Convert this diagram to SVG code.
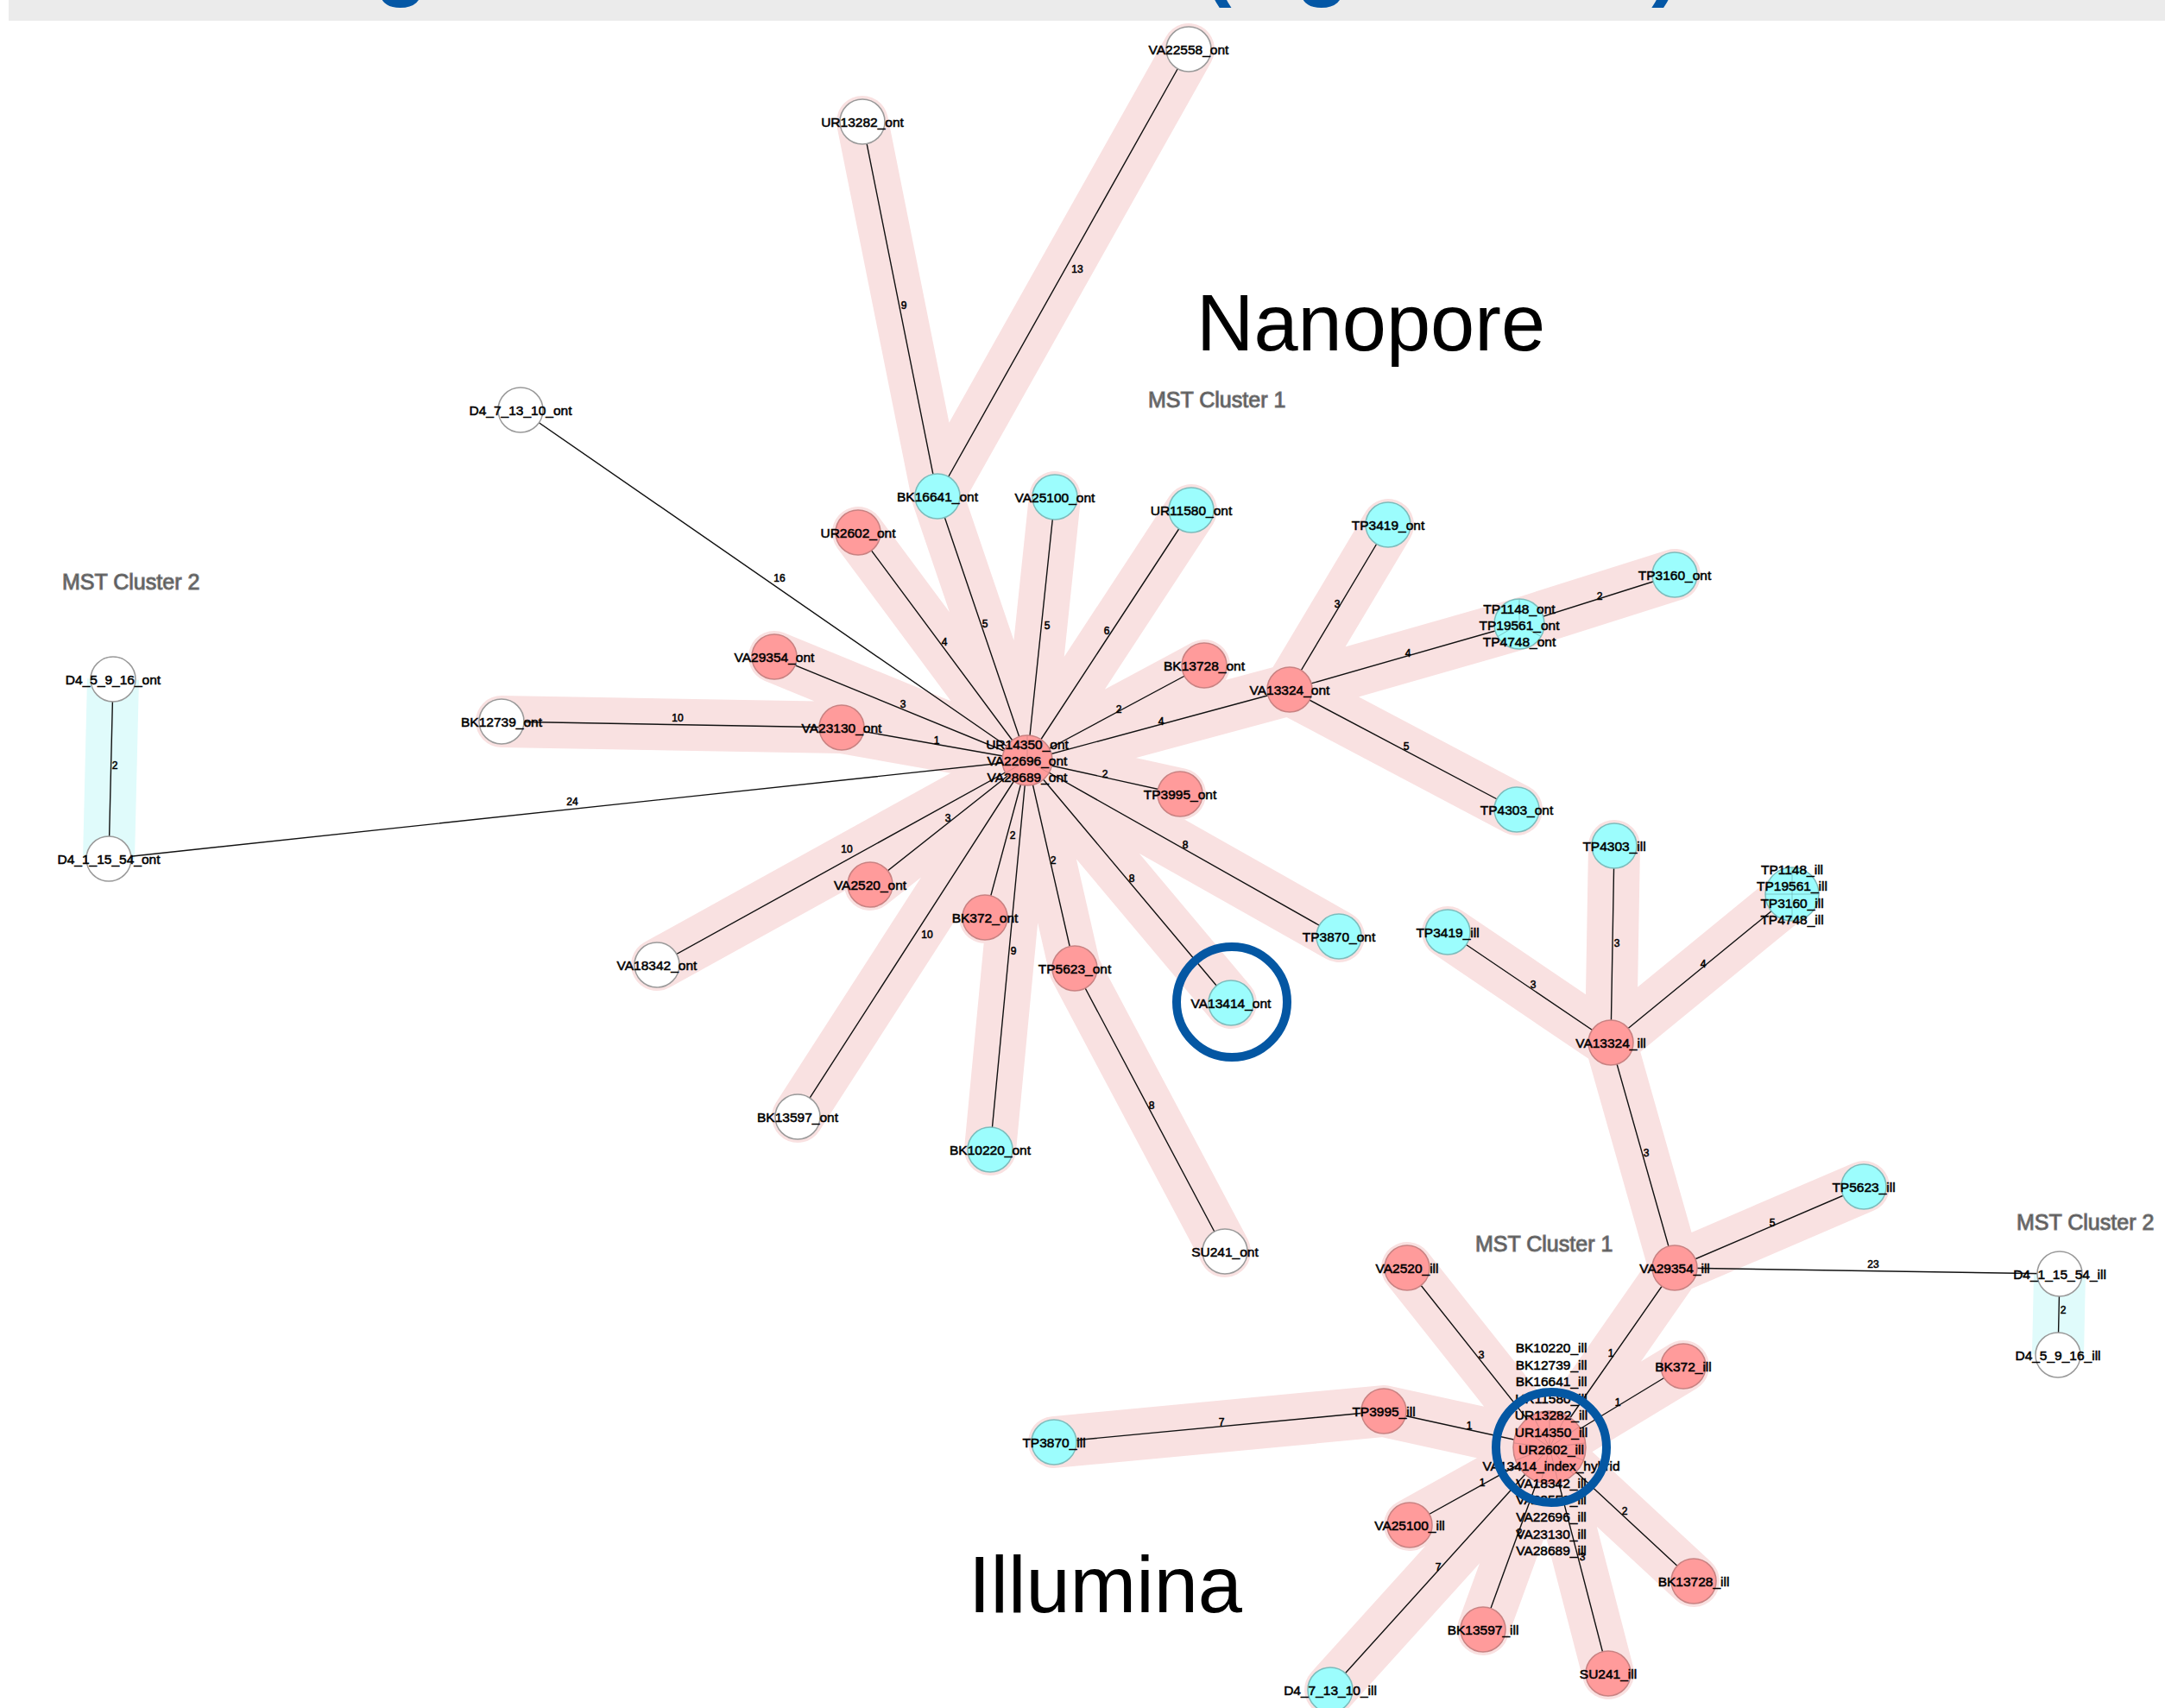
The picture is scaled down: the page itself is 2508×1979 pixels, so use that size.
<svg xmlns="http://www.w3.org/2000/svg" width="2508" height="1979" viewBox="0 0 2508 1979">
<style>
.band{fill:none;stroke:#f9e1e1;stroke-width:60;stroke-linecap:round;stroke-linejoin:round}
.bandc{fill:none;stroke:#e0fbfb;stroke-width:60;stroke-linecap:butt}
.edge{stroke:#111;stroke-width:1.4;fill:none}
.r{fill:#ff9b9b;stroke:#c98282;stroke-width:1.5}
.c{fill:#9cfdfd;stroke:#7cbcbc;stroke-width:1.5}
.w{fill:#fff;stroke:#9a9a9a;stroke-width:1.5}
.div{stroke:#c98282;stroke-width:1;fill:none;opacity:0.7}
.divc{stroke:#6fb0b0;stroke-width:1;fill:none;opacity:0.7}
text{font-family:"Liberation Sans",Arial,Helvetica,sans-serif}
.lbl{font-size:15.5px;text-anchor:middle;dominant-baseline:central;fill:#000;stroke:#000;stroke-width:0.55}
.el{font-size:12px;text-anchor:middle;dominant-baseline:central;fill:#000;stroke:#000;stroke-width:0.55}
.mst{font-size:25px;fill:#505050;stroke:#7a7a7a;stroke-width:1.1}
.big{font-size:92px;fill:#000}
.ring{fill:none;stroke:#0457a3;stroke-width:10}
.title{font-size:100px;font-weight:bold;fill:#0457a5;text-anchor:middle}
</style>
<rect x="10" y="0" width="2498" height="24" fill="#ebebeb"/>
<text class="title" x="465" y="-12">g</text>
<text class="title" x="1410" y="-12">(</text>
<text class="title" x="1532" y="-12">g</text>
<text class="title" x="1930" y="-12">)</text>

<g id="bands">
<path class="band" d="M1377,57 L1086,575 L1190,881 M999,141 L1086,575 M994,617 L1190,881 M1222,576 L1190,881 M1380,591 L1190,881 M1395,771 L1190,881 M1494,799 L1190,881 M1494,799 L1608,608 M1494,799 L1760,723 L1940,666 M1494,799 L1757,938 M897,761 L1190,881 M581,836 L975,843 L1190,881 M1190,881 L1367,920 M1190,881 L1551,1085 M1190,881 L1426,1162 M1190,881 L1245,1122 L1419,1450 M1190,881 L1141,1063 M1190,881 L1008,1025 M1190,881 L761,1118 M1190,881 L924,1294 M1190,881 L1147,1332"/>
<path class="band" d="M1870,980 L1866,1208 M2076,1036 L1866,1208 M1677,1080 L1866,1208 L1940,1469 L2159,1375 M1940,1469 L1795,1677 M1630,1469 L1795,1677 M1950,1583 L1795,1677 M1221,1671 L1603,1635 L1795,1677 M1633,1767 L1795,1677 M1541,1958 L1795,1677 M1718,1888 L1795,1677 M1962,1832 L1795,1677 M1863,1939 L1795,1677"/>
<path class="bandc" d="M131,787 L126,995 M2386,1476 L2384,1570"/>
</g>

<g id="connectors">
<path class="edge" d="M1377,57 L1086,575 M999,141 L1086,575 M1086,575 L1190,881 M603,475 L1190,881 M994,617 L1190,881 M1222,576 L1190,881 M1380,591 L1190,881 M1395,771 L1190,881 M1494,799 L1190,881 M1494,799 L1608,608 M1494,799 L1760,723 M1760,723 L1940,666 M1494,799 L1757,938 M897,761 L1190,881 M581,836 L975,843 M975,843 L1190,881 M1190,881 L126,995 M1190,881 L1367,920 M1190,881 L1551,1085 M1190,881 L1426,1162 M1190,881 L1245,1122 M1245,1122 L1419,1450 M1190,881 L1141,1063 M1190,881 L1008,1025 M1190,881 L761,1118 M1190,881 L924,1294 M1190,881 L1147,1332 M131,787 L126,995"/>
<path class="edge" d="M1870,980 L1866,1208 M2076,1036 L1866,1208 M1677,1080 L1866,1208 M1866,1208 L1940,1469 M1940,1469 L2159,1375 M1940,1469 L2386,1476 M2386,1476 L2384,1570 M1940,1469 L1795,1677 M1630,1469 L1795,1677 M1950,1583 L1795,1677 M1221,1671 L1603,1635 M1603,1635 L1795,1677 M1633,1767 L1795,1677 M1541,1958 L1795,1677 M1718,1888 L1795,1677 M1962,1832 L1795,1677 M1863,1939 L1795,1677"/>
<g id="edge-labels">
<text class="el" x="1248" y="312">13</text>
<text class="el" x="1047" y="354">9</text>
<text class="el" x="903" y="670">16</text>
<text class="el" x="1141" y="723">5</text>
<text class="el" x="1094" y="744">4</text>
<text class="el" x="1213" y="725">5</text>
<text class="el" x="1282" y="731">6</text>
<text class="el" x="1296" y="822">2</text>
<text class="el" x="1345" y="836">4</text>
<text class="el" x="1549" y="700">3</text>
<text class="el" x="1631" y="757">4</text>
<text class="el" x="1853" y="691">2</text>
<text class="el" x="1629" y="865">5</text>
<text class="el" x="1046" y="816">3</text>
<text class="el" x="785" y="832">10</text>
<text class="el" x="1085" y="858">1</text>
<text class="el" x="663" y="929">24</text>
<text class="el" x="1280" y="897">2</text>
<text class="el" x="1373" y="979">8</text>
<text class="el" x="1311" y="1018">8</text>
<text class="el" x="1220" y="997">2</text>
<text class="el" x="1173" y="968">2</text>
<text class="el" x="1098" y="948">3</text>
<text class="el" x="981" y="984">10</text>
<text class="el" x="1074" y="1083">10</text>
<text class="el" x="1174" y="1102">9</text>
<text class="el" x="1334" y="1281">8</text>
<text class="el" x="133" y="887">2</text>
<text class="el" x="1873" y="1093">3</text>
<text class="el" x="1973" y="1117">4</text>
<text class="el" x="1776" y="1141">3</text>
<text class="el" x="1907" y="1336">3</text>
<text class="el" x="2053" y="1417">5</text>
<text class="el" x="2170" y="1465">23</text>
<text class="el" x="2390" y="1518">2</text>
<text class="el" x="1866" y="1568">1</text>
<text class="el" x="1716" y="1570">3</text>
<text class="el" x="1874" y="1625">1</text>
<text class="el" x="1702" y="1652">1</text>
<text class="el" x="1415" y="1648">7</text>
<text class="el" x="1717" y="1718">1</text>
<text class="el" x="1666" y="1816">7</text>
<text class="el" x="1760" y="1776">2</text>
<text class="el" x="1882" y="1751">2</text>
<text class="el" x="1833" y="1804">3</text>
</g>
</g>

<g id="titles">
<text class="big" x="1386" y="406">Nanopore</text>
<text class="big" x="1122" y="1868">Illumina</text>
<text class="mst" x="1330" y="472">MST Cluster 1</text>
<text class="mst" x="72" y="683">MST Cluster 2</text>
<text class="mst" x="1709" y="1450">MST Cluster 1</text>
<text class="mst" x="2336" y="1425">MST Cluster 2</text>
</g>

<g id="nodes">
<g id="n-VA22558_ont"><circle class="w" cx="1377" cy="57" r="26"/><text class="lbl" x="1377" y="57">VA22558_ont</text></g>
<g id="n-UR13282_ont"><circle class="w" cx="999" cy="141" r="26"/><text class="lbl" x="999" y="141">UR13282_ont</text></g>
<g id="n-D4_7_13_10_ont"><circle class="w" cx="603" cy="475" r="26"/><text class="lbl" x="603" y="475">D4_7_13_10_ont</text></g>
<g id="n-BK16641_ont"><circle class="c" cx="1086" cy="575" r="26"/><text class="lbl" x="1086" y="575">BK16641_ont</text></g>
<g id="n-VA25100_ont"><circle class="c" cx="1222" cy="576" r="26"/><text class="lbl" x="1222" y="576">VA25100_ont</text></g>
<g id="n-UR11580_ont"><circle class="c" cx="1380" cy="591" r="26"/><text class="lbl" x="1380" y="591">UR11580_ont</text></g>
<g id="n-UR2602_ont"><circle class="r" cx="994" cy="617" r="26"/><text class="lbl" x="994" y="617">UR2602_ont</text></g>
<g id="n-TP3419_ont"><circle class="c" cx="1608" cy="608" r="26"/><text class="lbl" x="1608" y="608">TP3419_ont</text></g>
<g id="n-TP3160_ont"><circle class="c" cx="1940" cy="666" r="26"/><text class="lbl" x="1940" y="666">TP3160_ont</text></g>
<g id="n-TPgroup_ont"><circle class="c" cx="1760" cy="723" r="29"/><path class="divc" d="M1760,723 L1760,694 M1760,723 L1785,737.5 M1760,723 L1735,737.5"/><text class="lbl" x="1760" y="705">TP1148_ont</text><text class="lbl" x="1760" y="724">TP19561_ont</text><text class="lbl" x="1760" y="743">TP4748_ont</text></g>
<g id="n-BK13728_ont"><circle class="r" cx="1395" cy="771" r="26"/><text class="lbl" x="1395" y="771">BK13728_ont</text></g>
<g id="n-VA13324_ont"><circle class="r" cx="1494" cy="799" r="26"/><text class="lbl" x="1494" y="799">VA13324_ont</text></g>
<g id="n-VA29354_ont"><circle class="r" cx="897" cy="761" r="26"/><text class="lbl" x="897" y="761">VA29354_ont</text></g>
<g id="n-BK12739_ont"><circle class="w" cx="581" cy="836" r="26"/><text class="lbl" x="581" y="836">BK12739_ont</text></g>
<g id="n-VA23130_ont"><circle class="r" cx="975" cy="843" r="26"/><text class="lbl" x="975" y="843">VA23130_ont</text></g>
<g id="n-hub_ont"><circle class="r" cx="1190" cy="881" r="29"/><path class="div" d="M1190,881 L1190,852 M1190,881 L1215,895.5 M1190,881 L1165,895.5"/><text class="lbl" x="1190" y="862">UR14350_ont</text><text class="lbl" x="1190" y="881">VA22696_ont</text><text class="lbl" x="1190" y="900">VA28689_ont</text></g>
<g id="n-TP3995_ont"><circle class="r" cx="1367" cy="920" r="26"/><text class="lbl" x="1367" y="920">TP3995_ont</text></g>
<g id="n-TP4303_ont"><circle class="c" cx="1757" cy="938" r="26"/><text class="lbl" x="1757" y="938">TP4303_ont</text></g>
<g id="n-VA2520_ont"><circle class="r" cx="1008" cy="1025" r="26"/><text class="lbl" x="1008" y="1025">VA2520_ont</text></g>
<g id="n-BK372_ont"><circle class="r" cx="1141" cy="1063" r="26"/><text class="lbl" x="1141" y="1063">BK372_ont</text></g>
<g id="n-TP3870_ont"><circle class="c" cx="1551" cy="1085" r="26"/><text class="lbl" x="1551" y="1085">TP3870_ont</text></g>
<g id="n-VA18342_ont"><circle class="w" cx="761" cy="1118" r="26"/><text class="lbl" x="761" y="1118">VA18342_ont</text></g>
<g id="n-TP5623_ont"><circle class="r" cx="1245" cy="1122" r="26"/><text class="lbl" x="1245" y="1122">TP5623_ont</text></g>
<g id="n-VA13414_ont"><circle class="c" cx="1426" cy="1162" r="26"/><text class="lbl" x="1426" y="1162">VA13414_ont</text></g>
<g id="n-BK13597_ont"><circle class="w" cx="924" cy="1294" r="26"/><text class="lbl" x="924" y="1294">BK13597_ont</text></g>
<g id="n-BK10220_ont"><circle class="c" cx="1147" cy="1332" r="26"/><text class="lbl" x="1147" y="1332">BK10220_ont</text></g>
<g id="n-SU241_ont"><circle class="w" cx="1419" cy="1450" r="26"/><text class="lbl" x="1419" y="1450">SU241_ont</text></g>
<g id="n-D4_5_9_16_ont"><circle class="w" cx="131" cy="787" r="26"/><text class="lbl" x="131" y="787">D4_5_9_16_ont</text></g>
<g id="n-D4_1_15_54_ont"><circle class="w" cx="126" cy="995" r="26"/><text class="lbl" x="126" y="995">D4_1_15_54_ont</text></g>

<g id="n-TP4303_ill"><circle class="c" cx="1870" cy="980" r="26"/><text class="lbl" x="1870" y="980">TP4303_ill</text></g>
<g id="n-TPgroup_ill"><circle class="c" cx="2076" cy="1036" r="31"/><path class="divc" d="M2076,1005 L2076,1067 M2045,1036 L2107,1036"/><text class="lbl" x="2076" y="1007">TP1148_ill</text><text class="lbl" x="2076" y="1026">TP19561_ill</text><text class="lbl" x="2076" y="1046">TP3160_ill</text><text class="lbl" x="2076" y="1065">TP4748_ill</text></g>
<g id="n-TP3419_ill"><circle class="c" cx="1677" cy="1080" r="26"/><text class="lbl" x="1677" y="1080">TP3419_ill</text></g>
<g id="n-VA13324_ill"><circle class="r" cx="1866" cy="1208" r="26"/><text class="lbl" x="1866" y="1208">VA13324_ill</text></g>
<g id="n-TP5623_ill"><circle class="c" cx="2159" cy="1375" r="26"/><text class="lbl" x="2159" y="1375">TP5623_ill</text></g>
<g id="n-VA29354_ill"><circle class="r" cx="1940" cy="1469" r="26"/><text class="lbl" x="1940" y="1469">VA29354_ill</text></g>
<g id="n-VA2520_ill"><circle class="r" cx="1630" cy="1469" r="26"/><text class="lbl" x="1630" y="1469">VA2520_ill</text></g>
<g id="n-BK372_ill"><circle class="r" cx="1950" cy="1583" r="26"/><text class="lbl" x="1950" y="1583">BK372_ill</text></g>
<g id="n-TP3995_ill"><circle class="r" cx="1603" cy="1635" r="26"/><text class="lbl" x="1603" y="1635">TP3995_ill</text></g>
<g id="n-TP3870_ill"><circle class="c" cx="1221" cy="1671" r="26"/><text class="lbl" x="1221" y="1671">TP3870_ill</text></g>
<g id="n-VA25100_ill"><circle class="r" cx="1633" cy="1767" r="26"/><text class="lbl" x="1633" y="1767">VA25100_ill</text></g>
<g id="n-BK13728_ill"><circle class="r" cx="1962" cy="1832" r="26"/><text class="lbl" x="1962" y="1832">BK13728_ill</text></g>
<g id="n-BK13597_ill"><circle class="r" cx="1718" cy="1888" r="26"/><text class="lbl" x="1718" y="1888">BK13597_ill</text></g>
<g id="n-SU241_ill"><circle class="r" cx="1863" cy="1939" r="26"/><text class="lbl" x="1863" y="1939">SU241_ill</text></g>
<g id="n-D4_7_13_10_ill"><circle class="c" cx="1541" cy="1958" r="26"/><text class="lbl" x="1541" y="1958">D4_7_13_10_ill</text></g>
<g id="n-D4_1_15_54_ill"><circle class="w" cx="2386" cy="1476" r="26"/><text class="lbl" x="2386" y="1476">D4_1_15_54_ill</text></g>
<g id="n-D4_5_9_16_ill"><circle class="w" cx="2384" cy="1570" r="26"/><text class="lbl" x="2384" y="1570">D4_5_9_16_ill</text></g>
<g id="n-hub_ill"><circle class="r" cx="1795" cy="1677" r="42"/><path class="div" d="M1795,1677 L1795,1635 M1795,1677 L1814.5,1639.8 M1795,1677 L1829.6,1653.1 M1795,1677 L1836.7,1671.9 M1795,1677 L1834.3,1691.9 M1795,1677 L1822.9,1708.4 M1795,1677 L1805.1,1717.8 M1795,1677 L1784.9,1717.8 M1795,1677 L1767.1,1708.4 M1795,1677 L1755.7,1691.9 M1795,1677 L1753.3,1671.9 M1795,1677 L1760.4,1653.1 M1795,1677 L1775.5,1639.8"/>
<text class="lbl" x="1797" y="1561">BK10220_ill</text>
<text class="lbl" x="1797" y="1581">BK12739_ill</text>
<text class="lbl" x="1797" y="1600">BK16641_ill</text>
<text class="lbl" x="1797" y="1620">UR11580_ill</text>
<text class="lbl" x="1797" y="1639">UR13282_ill</text>
<text class="lbl" x="1797" y="1659">UR14350_ill</text>
<text class="lbl" x="1797" y="1679">UR2602_ill</text>
<text class="lbl" x="1797" y="1698">VA13414_index_hybrid</text>
<text class="lbl" x="1797" y="1718">VA18342_ill</text>
<text class="lbl" x="1797" y="1737">VA22558_ill</text>
<text class="lbl" x="1797" y="1757">VA22696_ill</text>
<text class="lbl" x="1797" y="1777">VA23130_ill</text>
<text class="lbl" x="1797" y="1796">VA28689_ill</text>
</g>
</g>

<g id="highlights">
<circle class="ring" cx="1427" cy="1161" r="64"/>
<circle class="ring" cx="1797" cy="1677" r="64"/>
</g>
</svg>
